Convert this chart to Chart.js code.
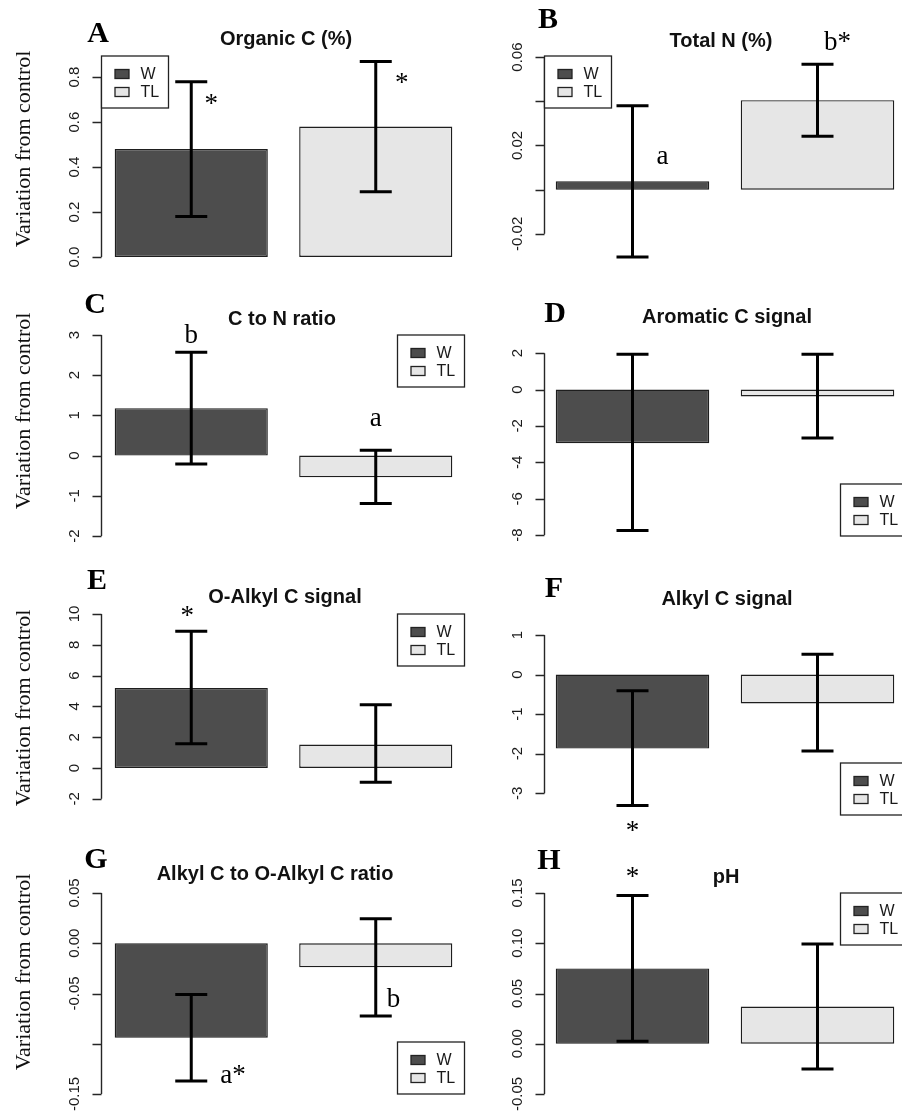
<!DOCTYPE html>
<html>
<head>
<meta charset="utf-8">
<script src="https://cdn.jsdelivr.net/npm/chart.js@4.4.1/dist/chart.umd.min.js"></script>
<style>
html, body { margin: 0; padding: 0; background: #fff; overflow: hidden; }
#wrap { position: relative; width: 902px; height: 1116px; overflow: hidden; background: #fff; }
#wrap canvas { position: absolute; }
</style>
</head>
<body>
<div id="wrap"></div>
<script>
// data
const groups = ['W', 'TL'];
const panelLetters = ['A', 'B', 'C', 'D', 'E', 'F', 'G', 'H'];
const panelTitles = ['Organic C (%)', 'Total N (%)', 'C to N ratio', 'Aromatic C signal',
    'O-Alkyl C signal', 'Alkyl C signal', 'Alkyl C to O-Alkyl C ratio', 'pH'];
const yLabel = 'Variation from control';

const meanW  = [0.48, 0.0038, 1.18, -2.95, 5.2, -1.87, -0.094, 0.075];
const meanTL = [0.58, 0.0405, -0.54, -0.38, 1.52, -0.73, -0.024, 0.037];
const lowW   = [0.18, -0.0305, -0.21, -7.75, 1.57, -3.31, -0.137, 0.0026];
const highW  = [0.78, 0.038, 2.57, 1.94, 8.88, -0.41, -0.051, 0.1476];
const lowTL  = [0.29, 0.0242, -1.19, -2.66, -0.93, -1.93, -0.0723, -0.025];
const highTL = [0.87, 0.0568, 0.13, 1.94, 4.1, 0.51, 0.0243, 0.0993];

const yMin = [0, -0.0305, -2, -8.05, -3.05, -3.55, -0.15, -0.05];
const yMax = [0.894, 0.0605, 3, 3.0, 10, 1.53, 0.05, 0.15];

const yTicks = [
    [0, 0.2, 0.4, 0.6, 0.8],
    [-0.02, 0, 0.02, 0.04, 0.06],
    [-2, -1, 0, 1, 2, 3],
    [-8, -6, -4, -2, 0, 2],
    [-2, 0, 2, 4, 6, 8, 10],
    [-3, -2, -1, 0, 1],
    [-0.15, -0.10, -0.05, 0, 0.05],
    [-0.05, 0, 0.05, 0.10, 0.15]
];
const yTickLabels = [
    ['0.0', '0.2', '0.4', '0.6', '0.8'],
    ['-0.02', '', '0.02', '', '0.06'],
    ['-2', '-1', '0', '1', '2', '3'],
    ['-8', '-6', '-4', '-2', '0', '2'],
    ['-2', '0', '2', '4', '6', '8', '10'],
    ['-3', '-2', '-1', '0', '1'],
    ['-0.15', '', '-0.05', '0.00', '0.05'],
    ['-0.05', '0.00', '0.05', '0.10', '0.15']
];

// significance letters: [bar index, text, value of text baseline]
const marks = [
    [[0, '*', 0.644], [1, '*', 0.74]],
    [[0, 'a', 0.0118], [1, 'b*', 0.0632]],
    [[0, 'b', 2.79], [1, 'a', 0.73]],
    [],
    [[0, '*', 9.34]],
    [[0, '*', -4.15]],
    [[0, 'a*', -0.1387], [1, 'b', -0.0637]],
    [[0, '*', 0.158]]
];

// layout / style
const colW = '#4d4d4d';
const colTL = '#e6e6e6';
const legendPos = ['tl', 'tl', 'tr', 'br', 'tr', 'br', 'br', 'tr'];
const markDx = [[20, 26], [30, 20], [0, 0], [], [-4], [0], [29, 11], [0]];
const markAlign = [[], [], [], [], [], [], ['left', 'left'], []];
const letterX = [98, 97, 95, 104, 97, 103, 96, 98];
const letterY = [42, 28, 34, 43, 31, 39, 31, 32];
const titleX = [286, 270, 282, 276, 285, 276, 275, 275];
const titleY = [45, 47, 46, 44, 45, 47, 43, 46];
const yLabelMid = [149, 0, 132, 0, 150, 0, 135, 0];

const wrap = document.getElementById('wrap');

function panelPlugin(i, col) {
    return {
        id: 'panel' + i,
        afterDatasetsDraw(chart) {
            const ctx = chart.ctx;
            const ys = chart.scales.y;
            const area = chart.chartArea;
            const axisX = Math.round(area.left + (col ? 4 : 2)) + 0.5;
            const meta = chart.getDatasetMeta(0);

            ctx.save();

            // error bars
            const lows = [lowW[i], lowTL[i]];
            const highs = [highW[i], highTL[i]];
            ctx.strokeStyle = '#000';
            ctx.lineWidth = 3;
            meta.data.forEach((bar, k) => {
                const x = bar.x;
                const yt = ys.getPixelForValue(highs[k]);
                const yb = ys.getPixelForValue(lows[k]);
                ctx.beginPath();
                ctx.moveTo(x, yt); ctx.lineTo(x, yb);
                ctx.moveTo(x - 16, yt); ctx.lineTo(x + 16, yt);
                ctx.moveTo(x - 16, yb); ctx.lineTo(x + 16, yb);
                ctx.stroke();
            });

            // R style axis
            const ticks = yTicks[i];
            const y0 = ys.getPixelForValue(ticks[0]);
            const y1 = ys.getPixelForValue(ticks[ticks.length - 1]);
            ctx.strokeStyle = '#262626';
            ctx.lineWidth = 1.4;
            ctx.beginPath();
            ctx.moveTo(axisX, y0); ctx.lineTo(axisX, y1);
            ticks.forEach(t => {
                const py = Math.round(ys.getPixelForValue(t)) + 0.5;
                ctx.moveTo(axisX - 9, py); ctx.lineTo(axisX, py);
            });
            ctx.stroke();
            ctx.fillStyle = '#1a1a1a';
            ctx.font = '15px "Liberation Sans", Arial, sans-serif';
            ctx.textAlign = 'center';
            ctx.textBaseline = 'middle';
            ticks.forEach((t, k) => {
                if (!yTickLabels[i][k]) return;
                ctx.save();
                ctx.translate(axisX - 27, ys.getPixelForValue(t));
                ctx.rotate(-Math.PI / 2);
                ctx.fillText(yTickLabels[i][k], 0, 0);
                ctx.restore();
            });

            // significance marks
            ctx.fillStyle = '#000';
            ctx.font = '27px "Liberation Serif", "Times New Roman", serif';
            ctx.textBaseline = 'alphabetic';
            marks[i].forEach((m, k) => {
                const bar = meta.data[m[0]];
                ctx.textAlign = markAlign[i][k] || 'center';
                ctx.fillText(m[1], bar.x + markDx[i][k], ys.getPixelForValue(m[2]));
            });

            // legend box
            const lw = 67, lh = 52;
            const lx = legendPos[i] === 'tl' ? axisX : axisX + 363 - lw;
            const ly = legendPos[i] === 'br' ? area.bottom - lh : area.top;
            ctx.fillStyle = '#fff';
            ctx.fillRect(lx, ly, lw, lh);
            ctx.strokeStyle = '#222';
            ctx.lineWidth = 1.3;
            ctx.strokeRect(lx, ly, lw, lh);
            [colW, colTL].forEach((c, k) => {
                const cy = ly + 18 + k * 18;
                ctx.fillStyle = c;
                ctx.fillRect(lx + 13.5, cy - 4.5, 14, 9);
                ctx.strokeRect(lx + 13.5, cy - 4.5, 14, 9);
                ctx.fillStyle = '#1a1a1a';
                ctx.font = '16px "Liberation Sans", Arial, sans-serif';
                ctx.textAlign = 'left';
                ctx.textBaseline = 'middle';
                ctx.fillText(groups[k], lx + 39, cy + 1);
            });

            // title
            ctx.fillStyle = '#111';
            ctx.font = 'bold 20px "Liberation Sans", Arial, sans-serif';
            ctx.textAlign = 'center';
            ctx.textBaseline = 'alphabetic';
            ctx.fillText(panelTitles[i], titleX[i], titleY[i]);

            // panel letter
            ctx.fillStyle = '#000';
            ctx.font = 'bold 30px "Liberation Serif", "Times New Roman", serif';
            ctx.fillText(panelLetters[i], letterX[i], letterY[i]);

            // y axis title on the left column
            if (!col) {
                ctx.save();
                ctx.translate(24, yLabelMid[i]);
                ctx.rotate(-Math.PI / 2);
                ctx.font = '22px "Liberation Serif", "Times New Roman", serif';
                ctx.textBaseline = 'middle';
                ctx.fillStyle = '#111';
                ctx.fillText(yLabel, 0, 0);
                ctx.restore();
            }

            ctx.restore();
        }
    };
}

function makePanel(i) {
    const col = i % 2;
    const row = Math.floor(i / 2);
    const canvas = document.createElement('canvas');
    canvas.width = 480;
    canvas.height = 279;
    canvas.style.width = '480px';
    canvas.style.height = '279px';
    canvas.style.left = (col ? 451 : 0) + 'px';
    canvas.style.top = (row * 279) + 'px';
    wrap.appendChild(canvas);

    const padLeft = col ? 89 : 99;
    const areaW = col ? 370 : 369;

    new Chart(canvas, {
        type: 'bar',
        data: {
            labels: groups,
            datasets: [{
                data: [meanW[i], meanTL[i]],
                backgroundColor: [colW, colTL],
                borderColor: '#1e1e1e',
                borderWidth: 1.4,
                borderSkipped: false,
                barPercentage: 0.83,
                categoryPercentage: 1
            }]
        },
        options: {
            responsive: false,
            devicePixelRatio: 1,
            animation: false,
            events: [],
            layout: {
                padding: { left: padLeft, right: 480 - padLeft - areaW, top: 56, bottom: 22 }
            },
            scales: {
                x: { display: false },
                y: { display: false, min: yMin[i], max: yMax[i] }
            },
            plugins: {
                legend: { display: false },
                tooltip: { enabled: false }
            }
        },
        plugins: [panelPlugin(i, col)]
    });
}

for (let i = 0; i < 8; i++) {
    makePanel(i);
}
</script>
</body>
</html>
